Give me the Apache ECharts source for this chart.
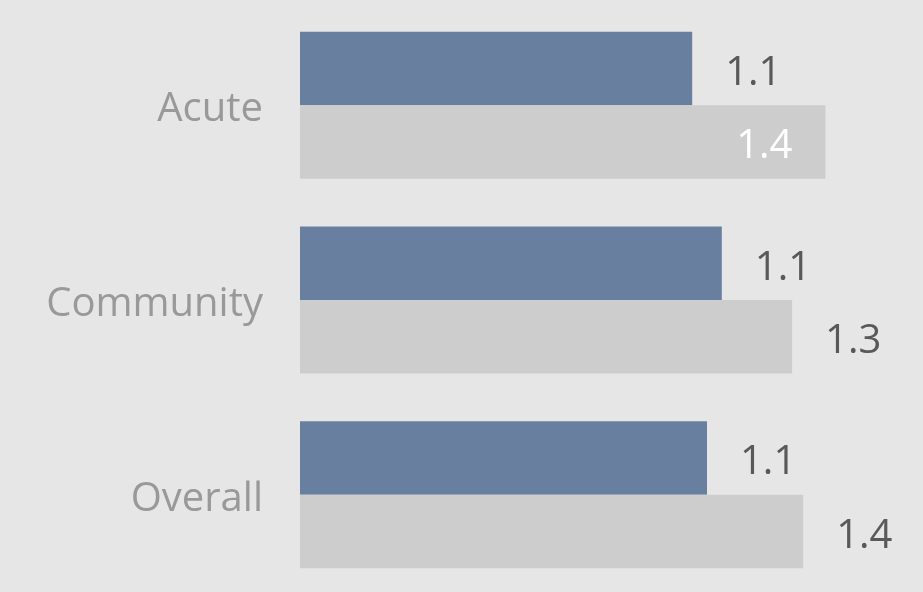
<!DOCTYPE html>
<html>
<head>
<meta charset="utf-8">
<style>
  html, body { margin: 0; padding: 0; background: #e6e6e6; }
  #main { width: 923px; height: 592px; }
</style>
<script src="https://cdn.jsdelivr.net/npm/echarts@6/dist/echarts.min.js"></script>
</head>
<body>
<div id="main"></div>
<script>
var categories = ['Acute', 'Community', 'Overall'];
var blueValues = [1.06, 1.14, 1.10];
var greyValues = [1.42, 1.33, 1.36];

var myChart = echarts.init(document.getElementById('main'));

var labelFont = {
    fontFamily: 'Open Sans',
    fontSize: 40
};

var option = {
    backgroundColor: '#e6e6e6',
    animation: false,
    grid: {
        left: 300,
        right: 31,
        top: 8,
        bottom: 0
    },
    xAxis: {
        type: 'value',
        min: 0,
        max: 1.6,
        show: false
    },
    yAxis: {
        type: 'category',
        data: categories,
        inverse: true,
        axisLine: { show: false },
        axisTick: { show: false },
        axisLabel: {
            margin: 37,
            formatter: function (v) { return '{a|' + v + '}'; },
            rich: {
                // nudge category names down a little to sit like the original
                a: {
                    color: '#999999',
                    fontFamily: 'Open Sans',
                    fontSize: 40,
                    padding: [9, 0, 0, 0]
                }
            }
        }
    },
    series: [
        {
            type: 'bar',
            data: blueValues,
            barWidth: 73.5,
            barGap: '0%',
            itemStyle: { color: '#687f9f' },
            label: {
                show: true,
                position: 'right',
                distance: 33,
                offset: [0, 5],
                color: '#595959',
                fontFamily: labelFont.fontFamily,
                fontSize: labelFont.fontSize,
                formatter: function (p) { return p.value.toFixed(1); }
            }
        },
        {
            type: 'bar',
            data: greyValues.map(function (v, i) {
                if (i === 0) {
                    // first bar carries its label inside, in white
                    return { value: v, label: { position: 'insideRight', color: '#ffffff' } };
                }
                return v;
            }),
            barWidth: 73.5,
            barGap: '0%',
            itemStyle: { color: '#cdcdcd' },
            label: {
                show: true,
                position: 'right',
                distance: 33,
                offset: [0, 5],
                color: '#595959',
                fontFamily: labelFont.fontFamily,
                fontSize: labelFont.fontSize,
                formatter: function (p) { return p.value.toFixed(1); }
            }
        }
    ]
};

myChart.setOption(option);
</script>
</body>
</html>
